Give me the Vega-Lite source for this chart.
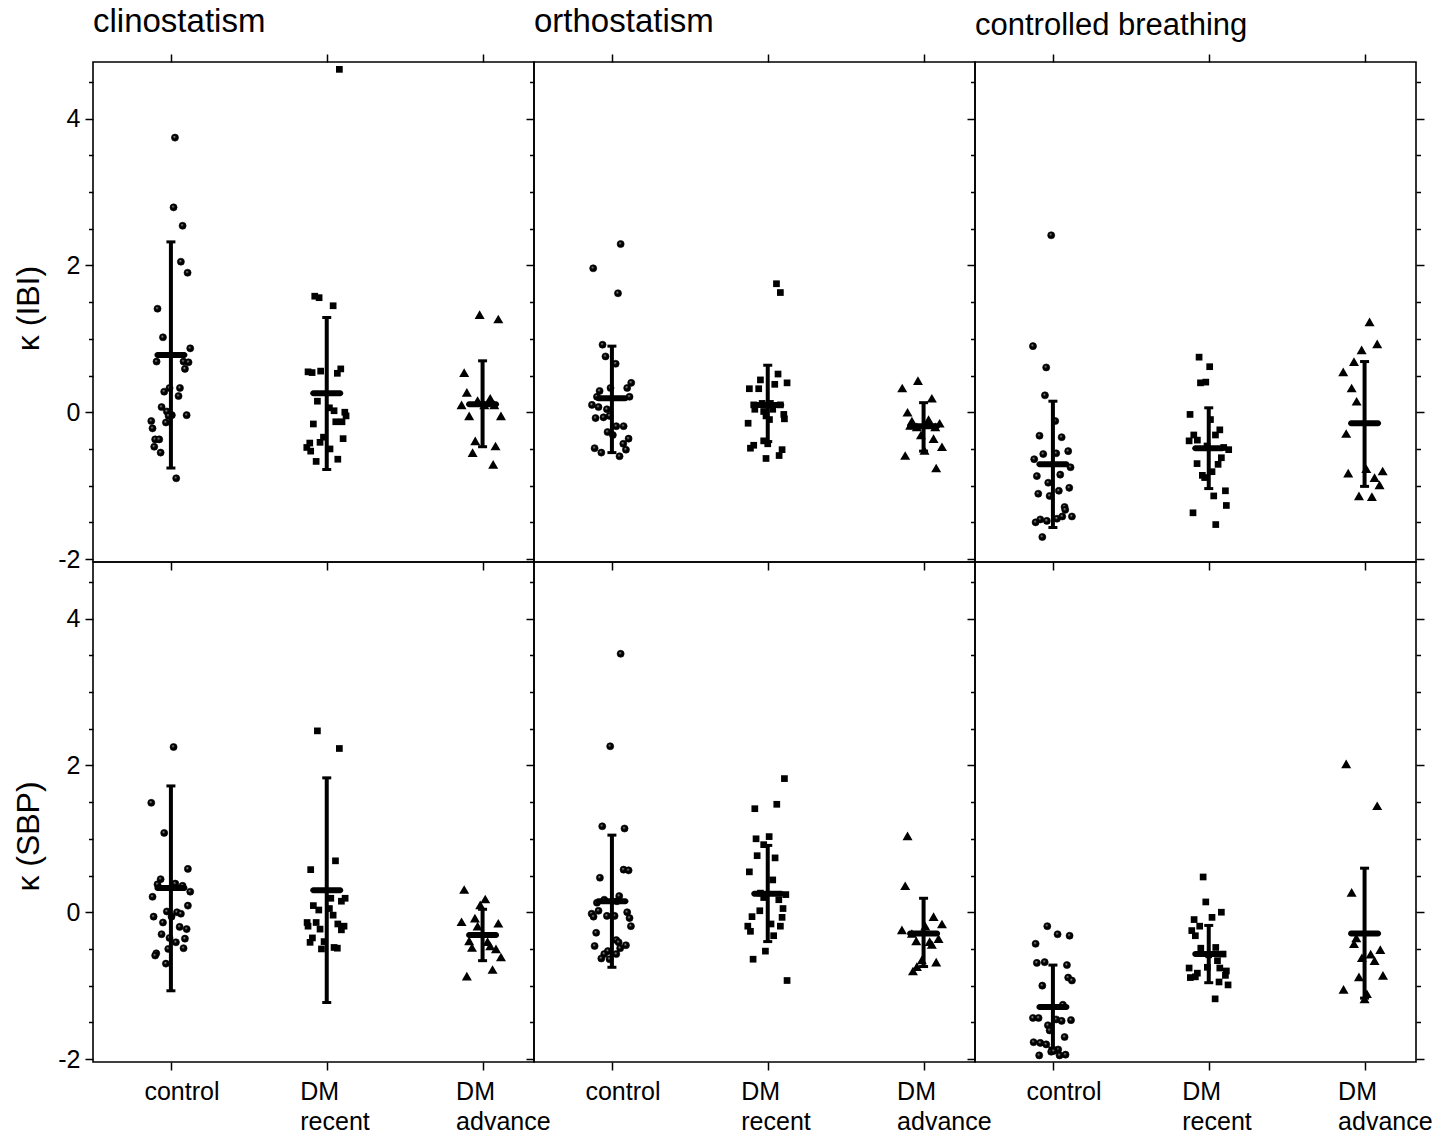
{
"$schema": "https://vega.github.io/schema/vega-lite/v6.json",
"background": "white",
"padding": {"left": 11, "top": 5, "right": 10, "bottom": 5},
"datasets": {
"pts": [
{"r":"IBI","c":"cl","g":1,"x":1.026,"v":3.74},{"r":"IBI","c":"cl","g":1,"x":1.017,"v":2.79},{"r":"IBI","c":"cl","g":1,"x":1.075,"v":2.54},{"r":"IBI","c":"cl","g":1,"x":1.064,"v":2.05},{"r":"IBI","c":"cl","g":1,"x":1.107,"v":1.90},{"r":"IBI","c":"cl","g":1,"x":0.914,"v":1.41},{"r":"IBI","c":"cl","g":1,"x":0.949,"v":1.02},{"r":"IBI","c":"cl","g":1,"x":1.124,"v":0.87},{"r":"IBI","c":"cl","g":1,"x":0.908,"v":0.69},{"r":"IBI","c":"cl","g":1,"x":1.081,"v":0.69},{"r":"IBI","c":"cl","g":1,"x":1.113,"v":0.68},{"r":"IBI","c":"cl","g":1,"x":1.090,"v":0.59},{"r":"IBI","c":"cl","g":1,"x":0.991,"v":0.33},{"r":"IBI","c":"cl","g":1,"x":0.957,"v":0.28},{"r":"IBI","c":"cl","g":1,"x":1.058,"v":0.33},{"r":"IBI","c":"cl","g":1,"x":1.049,"v":0.22},{"r":"IBI","c":"cl","g":1,"x":0.940,"v":0.07},{"r":"IBI","c":"cl","g":1,"x":0.974,"v":0.01},{"r":"IBI","c":"cl","g":1,"x":1.006,"v":-0.04},{"r":"IBI","c":"cl","g":1,"x":0.985,"v":-0.05},{"r":"IBI","c":"cl","g":1,"x":1.101,"v":-0.04},{"r":"IBI","c":"cl","g":1,"x":0.874,"v":-0.12},{"r":"IBI","c":"cl","g":1,"x":0.968,"v":-0.14},{"r":"IBI","c":"cl","g":1,"x":0.882,"v":-0.22},{"r":"IBI","c":"cl","g":1,"x":0.899,"v":-0.37},{"r":"IBI","c":"cl","g":1,"x":0.925,"v":-0.37},{"r":"IBI","c":"cl","g":1,"x":0.893,"v":-0.47},{"r":"IBI","c":"cl","g":1,"x":0.934,"v":-0.55},{"r":"IBI","c":"cl","g":1,"x":1.034,"v":-0.90},
{"r":"IBI","c":"cl","g":2,"x":2.081,"v":4.67},{"r":"IBI","c":"cl","g":2,"x":1.923,"v":1.58},{"r":"IBI","c":"cl","g":2,"x":1.951,"v":1.56},{"r":"IBI","c":"cl","g":2,"x":2.041,"v":1.45},{"r":"IBI","c":"cl","g":2,"x":1.880,"v":0.55},{"r":"IBI","c":"cl","g":2,"x":1.906,"v":0.54},{"r":"IBI","c":"cl","g":2,"x":1.961,"v":0.56},{"r":"IBI","c":"cl","g":2,"x":2.068,"v":0.53},{"r":"IBI","c":"cl","g":2,"x":2.090,"v":0.59},{"r":"IBI","c":"cl","g":2,"x":1.940,"v":0.15},{"r":"IBI","c":"cl","g":2,"x":2.017,"v":0.06},{"r":"IBI","c":"cl","g":2,"x":2.047,"v":0.02},{"r":"IBI","c":"cl","g":2,"x":2.116,"v":0.00},{"r":"IBI","c":"cl","g":2,"x":2.124,"v":-0.05},{"r":"IBI","c":"cl","g":2,"x":2.058,"v":-0.13},{"r":"IBI","c":"cl","g":2,"x":2.098,"v":-0.13},{"r":"IBI","c":"cl","g":2,"x":1.914,"v":-0.16},{"r":"IBI","c":"cl","g":2,"x":1.979,"v":-0.34},{"r":"IBI","c":"cl","g":2,"x":2.105,"v":-0.36},{"r":"IBI","c":"cl","g":2,"x":1.957,"v":-0.41},{"r":"IBI","c":"cl","g":2,"x":1.891,"v":-0.42},{"r":"IBI","c":"cl","g":2,"x":1.872,"v":-0.48},{"r":"IBI","c":"cl","g":2,"x":1.897,"v":-0.53},{"r":"IBI","c":"cl","g":2,"x":2.021,"v":-0.50},{"r":"IBI","c":"cl","g":2,"x":1.932,"v":-0.67},{"r":"IBI","c":"cl","g":2,"x":2.071,"v":-0.64},
{"r":"IBI","c":"cl","g":3,"x":2.981,"v":1.33},{"r":"IBI","c":"cl","g":3,"x":3.101,"v":1.27},{"r":"IBI","c":"cl","g":3,"x":2.882,"v":0.54},{"r":"IBI","c":"cl","g":3,"x":2.899,"v":0.27},{"r":"IBI","c":"cl","g":3,"x":2.968,"v":0.16},{"r":"IBI","c":"cl","g":3,"x":3.049,"v":0.19},{"r":"IBI","c":"cl","g":3,"x":2.865,"v":0.10},{"r":"IBI","c":"cl","g":3,"x":3.011,"v":0.10},{"r":"IBI","c":"cl","g":3,"x":3.075,"v":0.10},{"r":"IBI","c":"cl","g":3,"x":2.914,"v":-0.05},{"r":"IBI","c":"cl","g":3,"x":3.118,"v":-0.05},{"r":"IBI","c":"cl","g":3,"x":2.953,"v":-0.39},{"r":"IBI","c":"cl","g":3,"x":3.083,"v":-0.46},{"r":"IBI","c":"cl","g":3,"x":2.936,"v":-0.55},{"r":"IBI","c":"cl","g":3,"x":3.068,"v":-0.71},
{"r":"IBI","c":"or","g":1,"x":1.056,"v":2.29},{"r":"IBI","c":"or","g":1,"x":0.880,"v":1.96},{"r":"IBI","c":"or","g":1,"x":1.039,"v":1.62},{"r":"IBI","c":"or","g":1,"x":0.940,"v":0.92},{"r":"IBI","c":"or","g":1,"x":0.959,"v":0.76},{"r":"IBI","c":"or","g":1,"x":1.024,"v":0.66},{"r":"IBI","c":"or","g":1,"x":1.124,"v":0.40},{"r":"IBI","c":"or","g":1,"x":1.098,"v":0.33},{"r":"IBI","c":"or","g":1,"x":0.991,"v":0.33},{"r":"IBI","c":"or","g":1,"x":0.921,"v":0.29},{"r":"IBI","c":"or","g":1,"x":1.113,"v":0.21},{"r":"IBI","c":"or","g":1,"x":0.904,"v":0.21},{"r":"IBI","c":"or","g":1,"x":0.872,"v":0.10},{"r":"IBI","c":"or","g":1,"x":0.914,"v":0.07},{"r":"IBI","c":"or","g":1,"x":0.968,"v":0.04},{"r":"IBI","c":"or","g":1,"x":0.895,"v":-0.08},{"r":"IBI","c":"or","g":1,"x":0.946,"v":-0.07},{"r":"IBI","c":"or","g":1,"x":0.985,"v":-0.05},{"r":"IBI","c":"or","g":1,"x":1.028,"v":-0.19},{"r":"IBI","c":"or","g":1,"x":1.075,"v":-0.19},{"r":"IBI","c":"or","g":1,"x":0.972,"v":-0.27},{"r":"IBI","c":"or","g":1,"x":1.006,"v":-0.31},{"r":"IBI","c":"or","g":1,"x":1.107,"v":-0.36},{"r":"IBI","c":"or","g":1,"x":1.073,"v":-0.43},{"r":"IBI","c":"or","g":1,"x":0.889,"v":-0.49},{"r":"IBI","c":"or","g":1,"x":1.090,"v":-0.51},{"r":"IBI","c":"or","g":1,"x":0.932,"v":-0.55},{"r":"IBI","c":"or","g":1,"x":1.049,"v":-0.60},
{"r":"IBI","c":"or","g":2,"x":2.056,"v":1.75},{"r":"IBI","c":"or","g":2,"x":2.081,"v":1.63},{"r":"IBI","c":"or","g":2,"x":2.066,"v":0.52},{"r":"IBI","c":"or","g":2,"x":1.953,"v":0.44},{"r":"IBI","c":"or","g":2,"x":2.124,"v":0.40},{"r":"IBI","c":"or","g":2,"x":2.045,"v":0.38},{"r":"IBI","c":"or","g":2,"x":1.882,"v":0.32},{"r":"IBI","c":"or","g":2,"x":1.942,"v":0.32},{"r":"IBI","c":"or","g":2,"x":1.910,"v":0.10},{"r":"IBI","c":"or","g":2,"x":1.964,"v":0.12},{"r":"IBI","c":"or","g":2,"x":2.017,"v":0.12},{"r":"IBI","c":"or","g":2,"x":2.081,"v":0.10},{"r":"IBI","c":"or","g":2,"x":1.917,"v":0.04},{"r":"IBI","c":"or","g":2,"x":1.974,"v":0.01},{"r":"IBI","c":"or","g":2,"x":2.032,"v":0.04},{"r":"IBI","c":"or","g":2,"x":2.103,"v":-0.03},{"r":"IBI","c":"or","g":2,"x":1.989,"v":-0.05},{"r":"IBI","c":"or","g":2,"x":2.107,"v":-0.09},{"r":"IBI","c":"or","g":2,"x":2.011,"v":-0.10},{"r":"IBI","c":"or","g":2,"x":1.874,"v":-0.15},{"r":"IBI","c":"or","g":2,"x":1.974,"v":-0.39},{"r":"IBI","c":"or","g":2,"x":2.000,"v":-0.43},{"r":"IBI","c":"or","g":2,"x":1.910,"v":-0.45},{"r":"IBI","c":"or","g":2,"x":1.889,"v":-0.49},{"r":"IBI","c":"or","g":2,"x":2.092,"v":-0.51},{"r":"IBI","c":"or","g":2,"x":2.073,"v":-0.59},{"r":"IBI","c":"or","g":2,"x":1.989,"v":-0.63},
{"r":"IBI","c":"or","g":3,"x":2.964,"v":0.43},{"r":"IBI","c":"or","g":3,"x":2.863,"v":0.33},{"r":"IBI","c":"or","g":3,"x":3.053,"v":0.19},{"r":"IBI","c":"or","g":3,"x":2.897,"v":0.00},{"r":"IBI","c":"or","g":3,"x":2.925,"v":-0.12},{"r":"IBI","c":"or","g":3,"x":3.032,"v":-0.10},{"r":"IBI","c":"or","g":3,"x":3.103,"v":-0.15},{"r":"IBI","c":"or","g":3,"x":2.914,"v":-0.18},{"r":"IBI","c":"or","g":3,"x":2.957,"v":-0.20},{"r":"IBI","c":"or","g":3,"x":3.075,"v":-0.20},{"r":"IBI","c":"or","g":3,"x":2.983,"v":-0.31},{"r":"IBI","c":"or","g":3,"x":3.064,"v":-0.36},{"r":"IBI","c":"or","g":3,"x":3.006,"v":-0.52},{"r":"IBI","c":"or","g":3,"x":3.118,"v":-0.47},{"r":"IBI","c":"or","g":3,"x":2.882,"v":-0.59},{"r":"IBI","c":"or","g":3,"x":3.081,"v":-0.76},
{"r":"IBI","c":"br","g":1,"x":0.989,"v":2.41},{"r":"IBI","c":"br","g":1,"x":0.872,"v":0.90},{"r":"IBI","c":"br","g":1,"x":0.957,"v":0.61},{"r":"IBI","c":"br","g":1,"x":0.949,"v":0.23},{"r":"IBI","c":"br","g":1,"x":1.015,"v":-0.12},{"r":"IBI","c":"br","g":1,"x":0.914,"v":-0.32},{"r":"IBI","c":"br","g":1,"x":1.056,"v":-0.34},{"r":"IBI","c":"br","g":1,"x":0.938,"v":-0.57},{"r":"IBI","c":"br","g":1,"x":1.021,"v":-0.56},{"r":"IBI","c":"br","g":1,"x":1.098,"v":-0.53},{"r":"IBI","c":"br","g":1,"x":0.880,"v":-0.64},{"r":"IBI","c":"br","g":1,"x":1.113,"v":-0.75},{"r":"IBI","c":"br","g":1,"x":0.897,"v":-0.87},{"r":"IBI","c":"br","g":1,"x":1.047,"v":-0.85},{"r":"IBI","c":"br","g":1,"x":0.970,"v":-0.96},{"r":"IBI","c":"br","g":1,"x":1.038,"v":-1.07},{"r":"IBI","c":"br","g":1,"x":0.906,"v":-1.11},{"r":"IBI","c":"br","g":1,"x":0.979,"v":-1.14},{"r":"IBI","c":"br","g":1,"x":1.105,"v":-1.03},{"r":"IBI","c":"br","g":1,"x":1.075,"v":-1.29},{"r":"IBI","c":"br","g":1,"x":1.079,"v":-1.33},{"r":"IBI","c":"br","g":1,"x":1.122,"v":-1.42},{"r":"IBI","c":"br","g":1,"x":1.060,"v":-1.42},{"r":"IBI","c":"br","g":1,"x":1.026,"v":-1.45},{"r":"IBI","c":"br","g":1,"x":0.919,"v":-1.46},{"r":"IBI","c":"br","g":1,"x":0.961,"v":-1.48},{"r":"IBI","c":"br","g":1,"x":0.889,"v":-1.50},{"r":"IBI","c":"br","g":1,"x":0.932,"v":-1.70},
{"r":"IBI","c":"br","g":2,"x":1.938,"v":0.75},{"r":"IBI","c":"br","g":2,"x":2.006,"v":0.62},{"r":"IBI","c":"br","g":2,"x":1.947,"v":0.40},{"r":"IBI","c":"br","g":2,"x":1.981,"v":0.41},{"r":"IBI","c":"br","g":2,"x":1.880,"v":-0.03},{"r":"IBI","c":"br","g":2,"x":2.011,"v":-0.10},{"r":"IBI","c":"br","g":2,"x":2.071,"v":-0.24},{"r":"IBI","c":"br","g":2,"x":2.043,"v":-0.31},{"r":"IBI","c":"br","g":2,"x":1.904,"v":-0.31},{"r":"IBI","c":"br","g":2,"x":1.874,"v":-0.39},{"r":"IBI","c":"br","g":2,"x":1.927,"v":-0.38},{"r":"IBI","c":"br","g":2,"x":1.989,"v":-0.46},{"r":"IBI","c":"br","g":2,"x":2.096,"v":-0.48},{"r":"IBI","c":"br","g":2,"x":2.128,"v":-0.51},{"r":"IBI","c":"br","g":2,"x":2.081,"v":-0.62},{"r":"IBI","c":"br","g":2,"x":1.925,"v":-0.70},{"r":"IBI","c":"br","g":2,"x":2.060,"v":-0.71},{"r":"IBI","c":"br","g":2,"x":2.021,"v":-0.81},{"r":"IBI","c":"br","g":2,"x":1.959,"v":-0.86},{"r":"IBI","c":"br","g":2,"x":1.974,"v":-0.89},{"r":"IBI","c":"br","g":2,"x":2.107,"v":-1.07},{"r":"IBI","c":"br","g":2,"x":2.032,"v":-1.14},{"r":"IBI","c":"br","g":2,"x":2.113,"v":-1.27},{"r":"IBI","c":"br","g":2,"x":1.899,"v":-1.37},{"r":"IBI","c":"br","g":2,"x":2.045,"v":-1.53},
{"r":"IBI","c":"br","g":3,"x":3.032,"v":1.23},{"r":"IBI","c":"br","g":3,"x":3.081,"v":0.93},{"r":"IBI","c":"br","g":3,"x":2.981,"v":0.85},{"r":"IBI","c":"br","g":3,"x":2.932,"v":0.69},{"r":"IBI","c":"br","g":3,"x":2.863,"v":0.55},{"r":"IBI","c":"br","g":3,"x":2.917,"v":0.33},{"r":"IBI","c":"br","g":3,"x":2.949,"v":0.15},{"r":"IBI","c":"br","g":3,"x":2.882,"v":-0.29},{"r":"IBI","c":"br","g":3,"x":2.895,"v":-0.83},{"r":"IBI","c":"br","g":3,"x":3.011,"v":-0.77},{"r":"IBI","c":"br","g":3,"x":3.116,"v":-0.80},{"r":"IBI","c":"br","g":3,"x":3.064,"v":-0.89},{"r":"IBI","c":"br","g":3,"x":3.096,"v":-0.99},{"r":"IBI","c":"br","g":3,"x":2.964,"v":-1.14},{"r":"IBI","c":"br","g":3,"x":3.047,"v":-1.15},
{"r":"SBP","c":"cl","g":1,"x":1.017,"v":2.25},{"r":"SBP","c":"cl","g":1,"x":0.874,"v":1.49},{"r":"SBP","c":"cl","g":1,"x":0.957,"v":1.08},{"r":"SBP","c":"cl","g":1,"x":1.109,"v":0.59},{"r":"SBP","c":"cl","g":1,"x":0.934,"v":0.45},{"r":"SBP","c":"cl","g":1,"x":0.914,"v":0.38},{"r":"SBP","c":"cl","g":1,"x":1.028,"v":0.39},{"r":"SBP","c":"cl","g":1,"x":1.075,"v":0.36},{"r":"SBP","c":"cl","g":1,"x":1.124,"v":0.28},{"r":"SBP","c":"cl","g":1,"x":0.882,"v":0.21},{"r":"SBP","c":"cl","g":1,"x":1.109,"v":0.09},{"r":"SBP","c":"cl","g":1,"x":0.974,"v":0.01},{"r":"SBP","c":"cl","g":1,"x":1.039,"v":0.00},{"r":"SBP","c":"cl","g":1,"x":1.064,"v":-0.02},{"r":"SBP","c":"cl","g":1,"x":1.004,"v":-0.06},{"r":"SBP","c":"cl","g":1,"x":0.889,"v":-0.06},{"r":"SBP","c":"cl","g":1,"x":0.949,"v":-0.14},{"r":"SBP","c":"cl","g":1,"x":1.056,"v":-0.20},{"r":"SBP","c":"cl","g":1,"x":1.101,"v":-0.23},{"r":"SBP","c":"cl","g":1,"x":0.940,"v":-0.30},{"r":"SBP","c":"cl","g":1,"x":0.991,"v":-0.35},{"r":"SBP","c":"cl","g":1,"x":1.090,"v":-0.36},{"r":"SBP","c":"cl","g":1,"x":1.032,"v":-0.41},{"r":"SBP","c":"cl","g":1,"x":0.983,"v":-0.50},{"r":"SBP","c":"cl","g":1,"x":1.081,"v":-0.49},{"r":"SBP","c":"cl","g":1,"x":0.906,"v":-0.56},{"r":"SBP","c":"cl","g":1,"x":0.899,"v":-0.59},{"r":"SBP","c":"cl","g":1,"x":0.968,"v":-0.70},
{"r":"SBP","c":"cl","g":2,"x":1.940,"v":2.47},{"r":"SBP","c":"cl","g":2,"x":2.081,"v":2.23},{"r":"SBP","c":"cl","g":2,"x":2.056,"v":0.70},{"r":"SBP","c":"cl","g":2,"x":1.897,"v":0.58},{"r":"SBP","c":"cl","g":2,"x":2.026,"v":0.19},{"r":"SBP","c":"cl","g":2,"x":2.118,"v":0.19},{"r":"SBP","c":"cl","g":2,"x":2.094,"v":0.15},{"r":"SBP","c":"cl","g":2,"x":1.914,"v":0.09},{"r":"SBP","c":"cl","g":2,"x":1.949,"v":0.03},{"r":"SBP","c":"cl","g":2,"x":2.017,"v":0.05},{"r":"SBP","c":"cl","g":2,"x":2.041,"v":-0.04},{"r":"SBP","c":"cl","g":2,"x":1.874,"v":-0.14},{"r":"SBP","c":"cl","g":2,"x":1.932,"v":-0.14},{"r":"SBP","c":"cl","g":2,"x":2.071,"v":-0.16},{"r":"SBP","c":"cl","g":2,"x":2.111,"v":-0.19},{"r":"SBP","c":"cl","g":2,"x":1.880,"v":-0.19},{"r":"SBP","c":"cl","g":2,"x":1.957,"v":-0.23},{"r":"SBP","c":"cl","g":2,"x":2.094,"v":-0.24},{"r":"SBP","c":"cl","g":2,"x":1.908,"v":-0.35},{"r":"SBP","c":"cl","g":2,"x":1.983,"v":-0.40},{"r":"SBP","c":"cl","g":2,"x":1.893,"v":-0.41},{"r":"SBP","c":"cl","g":2,"x":1.966,"v":-0.50},{"r":"SBP","c":"cl","g":2,"x":2.047,"v":-0.48},{"r":"SBP","c":"cl","g":2,"x":2.068,"v":-0.49},
{"r":"SBP","c":"cl","g":3,"x":2.882,"v":0.31},{"r":"SBP","c":"cl","g":3,"x":3.017,"v":0.18},{"r":"SBP","c":"cl","g":3,"x":2.985,"v":0.10},{"r":"SBP","c":"cl","g":3,"x":2.865,"v":-0.13},{"r":"SBP","c":"cl","g":3,"x":2.951,"v":-0.08},{"r":"SBP","c":"cl","g":3,"x":2.968,"v":-0.19},{"r":"SBP","c":"cl","g":3,"x":3.101,"v":-0.15},{"r":"SBP","c":"cl","g":3,"x":2.914,"v":-0.39},{"r":"SBP","c":"cl","g":3,"x":3.032,"v":-0.40},{"r":"SBP","c":"cl","g":3,"x":2.932,"v":-0.48},{"r":"SBP","c":"cl","g":3,"x":3.049,"v":-0.46},{"r":"SBP","c":"cl","g":3,"x":3.086,"v":-0.50},{"r":"SBP","c":"cl","g":3,"x":3.118,"v":-0.61},{"r":"SBP","c":"cl","g":3,"x":3.064,"v":-0.78},{"r":"SBP","c":"cl","g":3,"x":2.899,"v":-0.87},
{"r":"SBP","c":"or","g":1,"x":1.056,"v":3.52},{"r":"SBP","c":"or","g":1,"x":0.989,"v":2.26},{"r":"SBP","c":"or","g":1,"x":0.938,"v":1.17},{"r":"SBP","c":"or","g":1,"x":1.081,"v":1.14},{"r":"SBP","c":"or","g":1,"x":1.075,"v":0.58},{"r":"SBP","c":"or","g":1,"x":1.107,"v":0.57},{"r":"SBP","c":"or","g":1,"x":0.923,"v":0.47},{"r":"SBP","c":"or","g":1,"x":1.047,"v":0.22},{"r":"SBP","c":"or","g":1,"x":0.951,"v":0.17},{"r":"SBP","c":"or","g":1,"x":0.904,"v":0.13},{"r":"SBP","c":"or","g":1,"x":1.032,"v":0.15},{"r":"SBP","c":"or","g":1,"x":0.914,"v":0.02},{"r":"SBP","c":"or","g":1,"x":0.870,"v":-0.02},{"r":"SBP","c":"or","g":1,"x":0.882,"v":-0.06},{"r":"SBP","c":"or","g":1,"x":0.968,"v":-0.05},{"r":"SBP","c":"or","g":1,"x":1.017,"v":-0.05},{"r":"SBP","c":"or","g":1,"x":1.098,"v":0.00},{"r":"SBP","c":"or","g":1,"x":1.113,"v":-0.08},{"r":"SBP","c":"or","g":1,"x":1.122,"v":-0.19},{"r":"SBP","c":"or","g":1,"x":0.899,"v":-0.28},{"r":"SBP","c":"or","g":1,"x":1.028,"v":-0.38},{"r":"SBP","c":"or","g":1,"x":1.043,"v":-0.41},{"r":"SBP","c":"or","g":1,"x":0.889,"v":-0.46},{"r":"SBP","c":"or","g":1,"x":1.090,"v":-0.45},{"r":"SBP","c":"or","g":1,"x":1.053,"v":-0.49},{"r":"SBP","c":"or","g":1,"x":0.974,"v":-0.53},{"r":"SBP","c":"or","g":1,"x":0.951,"v":-0.57},{"r":"SBP","c":"or","g":1,"x":1.028,"v":-0.57},{"r":"SBP","c":"or","g":1,"x":0.932,"v":-0.63},{"r":"SBP","c":"or","g":1,"x":0.985,"v":-0.64},
{"r":"SBP","c":"or","g":2,"x":2.107,"v":1.82},{"r":"SBP","c":"or","g":2,"x":1.917,"v":1.41},{"r":"SBP","c":"or","g":2,"x":2.058,"v":1.47},{"r":"SBP","c":"or","g":2,"x":1.925,"v":1.00},{"r":"SBP","c":"or","g":2,"x":2.009,"v":1.03},{"r":"SBP","c":"or","g":2,"x":1.974,"v":0.92},{"r":"SBP","c":"or","g":2,"x":1.932,"v":0.77},{"r":"SBP","c":"or","g":2,"x":2.047,"v":0.74},{"r":"SBP","c":"or","g":2,"x":1.882,"v":0.55},{"r":"SBP","c":"or","g":2,"x":2.032,"v":0.44},{"r":"SBP","c":"or","g":2,"x":1.953,"v":0.26},{"r":"SBP","c":"or","g":2,"x":2.116,"v":0.24},{"r":"SBP","c":"or","g":2,"x":1.974,"v":0.20},{"r":"SBP","c":"or","g":2,"x":2.071,"v":0.17},{"r":"SBP","c":"or","g":2,"x":2.098,"v":0.05},{"r":"SBP","c":"or","g":2,"x":1.949,"v":0.02},{"r":"SBP","c":"or","g":2,"x":1.899,"v":-0.06},{"r":"SBP","c":"or","g":2,"x":2.092,"v":-0.07},{"r":"SBP","c":"or","g":2,"x":2.021,"v":-0.16},{"r":"SBP","c":"or","g":2,"x":1.872,"v":-0.19},{"r":"SBP","c":"or","g":2,"x":2.081,"v":-0.19},{"r":"SBP","c":"or","g":2,"x":1.889,"v":-0.26},{"r":"SBP","c":"or","g":2,"x":2.038,"v":-0.32},{"r":"SBP","c":"or","g":2,"x":1.985,"v":-0.53},{"r":"SBP","c":"or","g":2,"x":1.906,"v":-0.64},{"r":"SBP","c":"or","g":2,"x":2.124,"v":-0.93},
{"r":"SBP","c":"or","g":3,"x":2.897,"v":1.04},{"r":"SBP","c":"or","g":3,"x":2.882,"v":0.36},{"r":"SBP","c":"or","g":3,"x":3.064,"v":-0.06},{"r":"SBP","c":"or","g":3,"x":3.118,"v":-0.16},{"r":"SBP","c":"or","g":3,"x":2.861,"v":-0.24},{"r":"SBP","c":"or","g":3,"x":3.011,"v":-0.19},{"r":"SBP","c":"or","g":3,"x":2.925,"v":-0.29},{"r":"SBP","c":"or","g":3,"x":2.953,"v":-0.39},{"r":"SBP","c":"or","g":3,"x":3.039,"v":-0.40},{"r":"SBP","c":"or","g":3,"x":3.096,"v":-0.36},{"r":"SBP","c":"or","g":3,"x":3.053,"v":-0.44},{"r":"SBP","c":"or","g":3,"x":2.989,"v":-0.65},{"r":"SBP","c":"or","g":3,"x":3.081,"v":-0.68},{"r":"SBP","c":"or","g":3,"x":2.957,"v":-0.74},{"r":"SBP","c":"or","g":3,"x":2.932,"v":-0.80},
{"r":"SBP","c":"br","g":1,"x":0.964,"v":-0.19},{"r":"SBP","c":"br","g":1,"x":1.030,"v":-0.30},{"r":"SBP","c":"br","g":1,"x":1.107,"v":-0.32},{"r":"SBP","c":"br","g":1,"x":0.889,"v":-0.43},{"r":"SBP","c":"br","g":1,"x":0.897,"v":-0.69},{"r":"SBP","c":"br","g":1,"x":0.947,"v":-0.68},{"r":"SBP","c":"br","g":1,"x":1.090,"v":-0.72},{"r":"SBP","c":"br","g":1,"x":1.098,"v":-0.89},{"r":"SBP","c":"br","g":1,"x":1.122,"v":-0.93},{"r":"SBP","c":"br","g":1,"x":0.932,"v":-1.00},{"r":"SBP","c":"br","g":1,"x":1.064,"v":-1.26},{"r":"SBP","c":"br","g":1,"x":0.872,"v":-1.44},{"r":"SBP","c":"br","g":1,"x":0.908,"v":-1.44},{"r":"SBP","c":"br","g":1,"x":1.021,"v":-1.46},{"r":"SBP","c":"br","g":1,"x":1.056,"v":-1.48},{"r":"SBP","c":"br","g":1,"x":1.116,"v":-1.47},{"r":"SBP","c":"br","g":1,"x":0.968,"v":-1.54},{"r":"SBP","c":"br","g":1,"x":0.979,"v":-1.61},{"r":"SBP","c":"br","g":1,"x":1.075,"v":-1.70},{"r":"SBP","c":"br","g":1,"x":0.876,"v":-1.77},{"r":"SBP","c":"br","g":1,"x":0.919,"v":-1.78},{"r":"SBP","c":"br","g":1,"x":0.957,"v":-1.80},{"r":"SBP","c":"br","g":1,"x":1.034,"v":-1.87},{"r":"SBP","c":"br","g":1,"x":0.989,"v":-1.90},{"r":"SBP","c":"br","g":1,"x":1.006,"v":-1.89},{"r":"SBP","c":"br","g":1,"x":1.043,"v":-1.95},{"r":"SBP","c":"br","g":1,"x":1.081,"v":-1.94},{"r":"SBP","c":"br","g":1,"x":0.912,"v":-1.95},
{"r":"SBP","c":"br","g":2,"x":1.964,"v":0.48},{"r":"SBP","c":"br","g":2,"x":1.981,"v":0.14},{"r":"SBP","c":"br","g":2,"x":2.081,"v":0.00},{"r":"SBP","c":"br","g":2,"x":1.906,"v":-0.10},{"r":"SBP","c":"br","g":2,"x":2.021,"v":-0.07},{"r":"SBP","c":"br","g":2,"x":1.942,"v":-0.19},{"r":"SBP","c":"br","g":2,"x":1.891,"v":-0.25},{"r":"SBP","c":"br","g":2,"x":1.914,"v":-0.32},{"r":"SBP","c":"br","g":2,"x":1.949,"v":-0.49},{"r":"SBP","c":"br","g":2,"x":2.045,"v":-0.48},{"r":"SBP","c":"br","g":2,"x":2.092,"v":-0.57},{"r":"SBP","c":"br","g":2,"x":2.000,"v":-0.58},{"r":"SBP","c":"br","g":2,"x":2.056,"v":-0.66},{"r":"SBP","c":"br","g":2,"x":1.874,"v":-0.76},{"r":"SBP","c":"br","g":2,"x":1.991,"v":-0.75},{"r":"SBP","c":"br","g":2,"x":2.071,"v":-0.76},{"r":"SBP","c":"br","g":2,"x":2.113,"v":-0.80},{"r":"SBP","c":"br","g":2,"x":1.927,"v":-0.83},{"r":"SBP","c":"br","g":2,"x":1.882,"v":-0.89},{"r":"SBP","c":"br","g":2,"x":1.914,"v":-0.88},{"r":"SBP","c":"br","g":2,"x":2.107,"v":-0.86},{"r":"SBP","c":"br","g":2,"x":2.066,"v":-0.95},{"r":"SBP","c":"br","g":2,"x":2.124,"v":-0.99},{"r":"SBP","c":"br","g":2,"x":2.041,"v":-1.18},
{"r":"SBP","c":"br","g":3,"x":2.882,"v":2.02},{"r":"SBP","c":"br","g":3,"x":3.081,"v":1.45},{"r":"SBP","c":"br","g":3,"x":2.917,"v":0.27},{"r":"SBP","c":"br","g":3,"x":2.947,"v":-0.35},{"r":"SBP","c":"br","g":3,"x":2.932,"v":-0.43},{"r":"SBP","c":"br","g":3,"x":3.101,"v":-0.51},{"r":"SBP","c":"br","g":3,"x":3.039,"v":-0.57},{"r":"SBP","c":"br","g":3,"x":2.983,"v":-0.62},{"r":"SBP","c":"br","g":3,"x":3.064,"v":-0.66},{"r":"SBP","c":"br","g":3,"x":2.964,"v":-0.88},{"r":"SBP","c":"br","g":3,"x":3.118,"v":-0.86},{"r":"SBP","c":"br","g":3,"x":2.865,"v":-1.05},{"r":"SBP","c":"br","g":3,"x":3.015,"v":-1.11},{"r":"SBP","c":"br","g":3,"x":3.000,"v":-1.18}
],
"st": [
{"r":"IBI","c":"cl","g":1,"m":0.78,"lo":-0.76,"hi":2.32},{"r":"IBI","c":"cl","g":2,"m":0.26,"lo":-0.78,"hi":1.29},{"r":"IBI","c":"cl","g":3,"m":0.11,"lo":-0.47,"hi":0.70},
{"r":"IBI","c":"or","g":1,"m":0.19,"lo":-0.55,"hi":0.90},{"r":"IBI","c":"or","g":2,"m":0.10,"lo":-0.40,"hi":0.64},{"r":"IBI","c":"or","g":3,"m":-0.19,"lo":-0.53,"hi":0.13},
{"r":"IBI","c":"br","g":1,"m":-0.71,"lo":-1.57,"hi":0.15},{"r":"IBI","c":"br","g":2,"m":-0.49,"lo":-1.04,"hi":0.06},{"r":"IBI","c":"br","g":3,"m":-0.15,"lo":-1.01,"hi":0.69},
{"r":"SBP","c":"cl","g":1,"m":0.33,"lo":-1.07,"hi":1.72},{"r":"SBP","c":"cl","g":2,"m":0.30,"lo":-1.23,"hi":1.83},{"r":"SBP","c":"cl","g":3,"m":-0.31,"lo":-0.66,"hi":0.04},
{"r":"SBP","c":"or","g":1,"m":0.15,"lo":-0.75,"hi":1.05},{"r":"SBP","c":"or","g":2,"m":0.25,"lo":-0.40,"hi":0.91},{"r":"SBP","c":"or","g":3,"m":-0.29,"lo":-0.74,"hi":0.19},
{"r":"SBP","c":"br","g":1,"m":-1.29,"lo":-1.85,"hi":-0.72},{"r":"SBP","c":"br","g":2,"m":-0.57,"lo":-0.96,"hi":-0.18},{"r":"SBP","c":"br","g":3,"m":-0.29,"lo":-1.17,"hi":0.60}
]
},
"columns": 3,
"spacing": 0,
"bounds": "flush",
"concat": [
{"width":441,"height":500,"title":{"text":"clinostatism","offset":14,"fontSize":33},"resolve":{"axis":{"x":"independent","y":"independent"}},"layer":[
{"data":{"name":"pts"},"transform":[{"filter":"datum.r=='IBI'&&datum.c=='cl'&&datum.g==1"}],"mark":{"type":"point","shape":"circle","filled":true,"size":50,"opacity":1,"stroke":"#000","strokeWidth":0.6,"fill":{"gradient":"radial","x1":0.38,"y1":0.35,"r1":0,"x2":0.5,"y2":0.5,"r2":0.5,"stops":[{"offset":0,"color":"#ffffff"},{"offset":0.2,"color":"#555555"},{"offset":0.45,"color":"#000000"},{"offset":1,"color":"#000000"}]}},"encoding":{"x":{"field":"x","type":"quantitative","scale":{"domain":[0.5,3.33]},"axis":{"orient":"bottom","values":[1,2,3],"labels":false,"tickSize":8,"title":null}},"y":{"field":"v","type":"quantitative","scale":{"domain":[-2.04,4.77]},"axis":{"orient":"left","values":[-2,-1.5,-1,-0.5,0,0.5,1,1.5,2,2.5,3,3.5,4,4.5],"labelExpr":"datum.value % 2 === 0 ? toString(datum.value) : ''","tickSize":{"condition":{"test":"datum.value % 2 === 0","value":8},"value":4.5},"labelPadding":5,"labelFlush":false,"labelOverlap":false,"title":"κ (IBI)","titlePadding":12,"titleY":246}}}},
{"data":{"name":"pts"},"transform":[{"filter":"datum.r=='IBI'&&datum.c=='cl'&&datum.g==2"}],"mark":{"type":"point","shape":"square","filled":true,"size":45,"opacity":1,"color":"#000"},"encoding":{"x":{"field":"x","type":"quantitative","scale":{"domain":[0.5,3.33]},"axis":null},"y":{"field":"v","type":"quantitative","scale":{"domain":[-2.04,4.77]},"axis":null}}},
{"data":{"name":"pts"},"transform":[{"filter":"datum.r=='IBI'&&datum.c=='cl'&&datum.g==3"}],"mark":{"type":"point","shape":"triangle-up","filled":true,"size":100,"opacity":1,"color":"#000"},"encoding":{"x":{"field":"x","type":"quantitative","scale":{"domain":[0.5,3.33]},"axis":null},"y":{"field":"v","type":"quantitative","scale":{"domain":[-2.04,4.77]},"axis":null}}},
{"data":{"name":"st"},"transform":[{"filter":"datum.r=='IBI'&&datum.c=='cl'"}],"mark":{"type":"rule","strokeWidth":4,"color":"#000"},"encoding":{"x":{"field":"g","type":"quantitative","scale":{"domain":[0.5,3.33]},"axis":{"orient":"top","values":[1,2,3],"labels":false,"tickSize":8,"title":null}},"y":{"field":"lo","type":"quantitative","scale":{"domain":[-2.04,4.77]},"axis":null},"y2":{"field":"hi"}}},
{"data":{"name":"st"},"transform":[{"filter":"datum.r=='IBI'&&datum.c=='cl'"}],"mark":{"type":"tick","orient":"horizontal","size":9,"thickness":3,"opacity":1,"color":"#000"},"encoding":{"x":{"field":"g","type":"quantitative","scale":{"domain":[0.5,3.33]},"axis":null},"y":{"field":"lo","type":"quantitative","scale":{"domain":[-2.04,4.77]},"axis":null}}},
{"data":{"name":"st"},"transform":[{"filter":"datum.r=='IBI'&&datum.c=='cl'"}],"mark":{"type":"tick","orient":"horizontal","size":9,"thickness":3,"opacity":1,"color":"#000"},"encoding":{"x":{"field":"g","type":"quantitative","scale":{"domain":[0.5,3.33]},"axis":null},"y":{"field":"hi","type":"quantitative","scale":{"domain":[-2.04,4.77]},"axis":null}}},
{"data":{"name":"st"},"transform":[{"filter":"datum.r=='IBI'&&datum.c=='cl'"}],"mark":{"type":"tick","orient":"horizontal","size":33,"thickness":6,"cornerRadius":3,"opacity":1,"color":"#000"},"encoding":{"x":{"field":"g","type":"quantitative","scale":{"domain":[0.5,3.33]},"axis":null},"y":{"field":"m","type":"quantitative","scale":{"domain":[-2.04,4.77]},"axis":null}}}
]},
{"width":441,"height":500,"title":{"text":"orthostatism","offset":14,"fontSize":33},"resolve":{"axis":{"x":"independent","y":"independent"}},"layer":[
{"data":{"name":"pts"},"transform":[{"filter":"datum.r=='IBI'&&datum.c=='or'&&datum.g==1"}],"mark":{"type":"point","shape":"circle","filled":true,"size":50,"opacity":1,"stroke":"#000","strokeWidth":0.6,"fill":{"gradient":"radial","x1":0.38,"y1":0.35,"r1":0,"x2":0.5,"y2":0.5,"r2":0.5,"stops":[{"offset":0,"color":"#ffffff"},{"offset":0.2,"color":"#555555"},{"offset":0.45,"color":"#000000"},{"offset":1,"color":"#000000"}]}},"encoding":{"x":{"field":"x","type":"quantitative","scale":{"domain":[0.5,3.33]},"axis":{"orient":"bottom","values":[1,2,3],"labels":false,"tickSize":8,"title":null}},"y":{"field":"v","type":"quantitative","scale":{"domain":[-2.04,4.77]},"axis":{"orient":"left","values":[-2,-1.5,-1,-0.5,0,0.5,1,1.5,2,2.5,3,3.5,4,4.5],"labels":false,"tickSize":{"condition":{"test":"datum.value % 2 === 0","value":8},"value":4.5},"title":null}}}},
{"data":{"name":"pts"},"transform":[{"filter":"datum.r=='IBI'&&datum.c=='or'&&datum.g==2"}],"mark":{"type":"point","shape":"square","filled":true,"size":45,"opacity":1,"color":"#000"},"encoding":{"x":{"field":"x","type":"quantitative","scale":{"domain":[0.5,3.33]},"axis":null},"y":{"field":"v","type":"quantitative","scale":{"domain":[-2.04,4.77]},"axis":null}}},
{"data":{"name":"pts"},"transform":[{"filter":"datum.r=='IBI'&&datum.c=='or'&&datum.g==3"}],"mark":{"type":"point","shape":"triangle-up","filled":true,"size":100,"opacity":1,"color":"#000"},"encoding":{"x":{"field":"x","type":"quantitative","scale":{"domain":[0.5,3.33]},"axis":null},"y":{"field":"v","type":"quantitative","scale":{"domain":[-2.04,4.77]},"axis":null}}},
{"data":{"name":"st"},"transform":[{"filter":"datum.r=='IBI'&&datum.c=='or'"}],"mark":{"type":"rule","strokeWidth":4,"color":"#000"},"encoding":{"x":{"field":"g","type":"quantitative","scale":{"domain":[0.5,3.33]},"axis":{"orient":"top","values":[1,2,3],"labels":false,"tickSize":8,"title":null}},"y":{"field":"lo","type":"quantitative","scale":{"domain":[-2.04,4.77]},"axis":null},"y2":{"field":"hi"}}},
{"data":{"name":"st"},"transform":[{"filter":"datum.r=='IBI'&&datum.c=='or'"}],"mark":{"type":"tick","orient":"horizontal","size":9,"thickness":3,"opacity":1,"color":"#000"},"encoding":{"x":{"field":"g","type":"quantitative","scale":{"domain":[0.5,3.33]},"axis":null},"y":{"field":"lo","type":"quantitative","scale":{"domain":[-2.04,4.77]},"axis":null}}},
{"data":{"name":"st"},"transform":[{"filter":"datum.r=='IBI'&&datum.c=='or'"}],"mark":{"type":"tick","orient":"horizontal","size":9,"thickness":3,"opacity":1,"color":"#000"},"encoding":{"x":{"field":"g","type":"quantitative","scale":{"domain":[0.5,3.33]},"axis":null},"y":{"field":"hi","type":"quantitative","scale":{"domain":[-2.04,4.77]},"axis":null}}},
{"data":{"name":"st"},"transform":[{"filter":"datum.r=='IBI'&&datum.c=='or'"}],"mark":{"type":"tick","orient":"horizontal","size":33,"thickness":6,"cornerRadius":3,"opacity":1,"color":"#000"},"encoding":{"x":{"field":"g","type":"quantitative","scale":{"domain":[0.5,3.33]},"axis":null},"y":{"field":"m","type":"quantitative","scale":{"domain":[-2.04,4.77]},"axis":null}}}
]},
{"width":441,"height":500,"title":{"text":"controlled breathing","offset":11},"resolve":{"axis":{"x":"independent","y":"independent"}},"layer":[
{"data":{"name":"pts"},"transform":[{"filter":"datum.r=='IBI'&&datum.c=='br'&&datum.g==1"}],"mark":{"type":"point","shape":"circle","filled":true,"size":50,"opacity":1,"stroke":"#000","strokeWidth":0.6,"fill":{"gradient":"radial","x1":0.38,"y1":0.35,"r1":0,"x2":0.5,"y2":0.5,"r2":0.5,"stops":[{"offset":0,"color":"#ffffff"},{"offset":0.2,"color":"#555555"},{"offset":0.45,"color":"#000000"},{"offset":1,"color":"#000000"}]}},"encoding":{"x":{"field":"x","type":"quantitative","scale":{"domain":[0.5,3.33]},"axis":{"orient":"bottom","values":[1,2,3],"labels":false,"tickSize":8,"title":null}},"y":{"field":"v","type":"quantitative","scale":{"domain":[-2.04,4.77]},"axis":{"orient":"left","values":[-2,-1.5,-1,-0.5,0,0.5,1,1.5,2,2.5,3,3.5,4,4.5],"labels":false,"tickSize":{"condition":{"test":"datum.value % 2 === 0","value":8},"value":4.5},"title":null}}}},
{"data":{"name":"pts"},"transform":[{"filter":"datum.r=='IBI'&&datum.c=='br'&&datum.g==2"}],"mark":{"type":"point","shape":"square","filled":true,"size":45,"opacity":1,"color":"#000"},"encoding":{"x":{"field":"x","type":"quantitative","scale":{"domain":[0.5,3.33]},"axis":null},"y":{"field":"v","type":"quantitative","scale":{"domain":[-2.04,4.77]},"axis":null}}},
{"data":{"name":"pts"},"transform":[{"filter":"datum.r=='IBI'&&datum.c=='br'&&datum.g==3"}],"mark":{"type":"point","shape":"triangle-up","filled":true,"size":100,"opacity":1,"color":"#000"},"encoding":{"x":{"field":"x","type":"quantitative","scale":{"domain":[0.5,3.33]},"axis":null},"y":{"field":"v","type":"quantitative","scale":{"domain":[-2.04,4.77]},"axis":null}}},
{"data":{"name":"st"},"transform":[{"filter":"datum.r=='IBI'&&datum.c=='br'"}],"mark":{"type":"rule","strokeWidth":4,"color":"#000"},"encoding":{"x":{"field":"g","type":"quantitative","scale":{"domain":[0.5,3.33]},"axis":{"orient":"top","values":[1,2,3],"labels":false,"tickSize":8,"title":null}},"y":{"field":"lo","type":"quantitative","scale":{"domain":[-2.04,4.77]},"axis":{"orient":"right","values":[-2,-1.5,-1,-0.5,0,0.5,1,1.5,2,2.5,3,3.5,4,4.5],"labels":false,"tickSize":{"condition":{"test":"datum.value % 2 === 0","value":8},"value":4.5},"title":null}},"y2":{"field":"hi"}}},
{"data":{"name":"st"},"transform":[{"filter":"datum.r=='IBI'&&datum.c=='br'"}],"mark":{"type":"tick","orient":"horizontal","size":9,"thickness":3,"opacity":1,"color":"#000"},"encoding":{"x":{"field":"g","type":"quantitative","scale":{"domain":[0.5,3.33]},"axis":null},"y":{"field":"lo","type":"quantitative","scale":{"domain":[-2.04,4.77]},"axis":null}}},
{"data":{"name":"st"},"transform":[{"filter":"datum.r=='IBI'&&datum.c=='br'"}],"mark":{"type":"tick","orient":"horizontal","size":9,"thickness":3,"opacity":1,"color":"#000"},"encoding":{"x":{"field":"g","type":"quantitative","scale":{"domain":[0.5,3.33]},"axis":null},"y":{"field":"hi","type":"quantitative","scale":{"domain":[-2.04,4.77]},"axis":null}}},
{"data":{"name":"st"},"transform":[{"filter":"datum.r=='IBI'&&datum.c=='br'"}],"mark":{"type":"tick","orient":"horizontal","size":33,"thickness":6,"cornerRadius":3,"opacity":1,"color":"#000"},"encoding":{"x":{"field":"g","type":"quantitative","scale":{"domain":[0.5,3.33]},"axis":null},"y":{"field":"m","type":"quantitative","scale":{"domain":[-2.04,4.77]},"axis":null}}}
]},
{"width":441,"height":500,"resolve":{"axis":{"x":"independent","y":"independent"}},"layer":[
{"data":{"name":"pts"},"transform":[{"filter":"datum.r=='SBP'&&datum.c=='cl'&&datum.g==1"}],"mark":{"type":"point","shape":"circle","filled":true,"size":50,"opacity":1,"stroke":"#000","strokeWidth":0.6,"fill":{"gradient":"radial","x1":0.38,"y1":0.35,"r1":0,"x2":0.5,"y2":0.5,"r2":0.5,"stops":[{"offset":0,"color":"#ffffff"},{"offset":0.2,"color":"#555555"},{"offset":0.45,"color":"#000000"},{"offset":1,"color":"#000000"}]}},"encoding":{"x":{"field":"x","type":"quantitative","scale":{"domain":[0.5,3.33]},"axis":{"orient":"bottom","values":[1,2,3],"tickSize":8,"title":null,"labelExpr":"datum.value == 1 ? 'control' : datum.value == 2 ? ['DM','recent'] : ['DM','advance']","labelAlign":"left","labelOffset":-27,"labelPadding":9,"labelLineHeight":30,"labelBaseline":"top","labelFlush":false,"labelOverlap":false}},"y":{"field":"v","type":"quantitative","scale":{"domain":[-2.04,4.77]},"axis":{"orient":"left","values":[-2,-1.5,-1,-0.5,0,0.5,1,1.5,2,2.5,3,3.5,4,4.5],"labelExpr":"datum.value % 2 === 0 ? toString(datum.value) : ''","tickSize":{"condition":{"test":"datum.value % 2 === 0","value":8},"value":4.5},"labelPadding":5,"labelFlush":false,"labelOverlap":false,"title":"κ (SBP)","titlePadding":12,"titleY":274}}}},
{"data":{"name":"pts"},"transform":[{"filter":"datum.r=='SBP'&&datum.c=='cl'&&datum.g==2"}],"mark":{"type":"point","shape":"square","filled":true,"size":45,"opacity":1,"color":"#000"},"encoding":{"x":{"field":"x","type":"quantitative","scale":{"domain":[0.5,3.33]},"axis":null},"y":{"field":"v","type":"quantitative","scale":{"domain":[-2.04,4.77]},"axis":null}}},
{"data":{"name":"pts"},"transform":[{"filter":"datum.r=='SBP'&&datum.c=='cl'&&datum.g==3"}],"mark":{"type":"point","shape":"triangle-up","filled":true,"size":100,"opacity":1,"color":"#000"},"encoding":{"x":{"field":"x","type":"quantitative","scale":{"domain":[0.5,3.33]},"axis":null},"y":{"field":"v","type":"quantitative","scale":{"domain":[-2.04,4.77]},"axis":null}}},
{"data":{"name":"st"},"transform":[{"filter":"datum.r=='SBP'&&datum.c=='cl'"}],"mark":{"type":"rule","strokeWidth":4,"color":"#000"},"encoding":{"x":{"field":"g","type":"quantitative","scale":{"domain":[0.5,3.33]},"axis":null},"y":{"field":"lo","type":"quantitative","scale":{"domain":[-2.04,4.77]},"axis":null},"y2":{"field":"hi"}}},
{"data":{"name":"st"},"transform":[{"filter":"datum.r=='SBP'&&datum.c=='cl'"}],"mark":{"type":"tick","orient":"horizontal","size":9,"thickness":3,"opacity":1,"color":"#000"},"encoding":{"x":{"field":"g","type":"quantitative","scale":{"domain":[0.5,3.33]},"axis":null},"y":{"field":"lo","type":"quantitative","scale":{"domain":[-2.04,4.77]},"axis":null}}},
{"data":{"name":"st"},"transform":[{"filter":"datum.r=='SBP'&&datum.c=='cl'"}],"mark":{"type":"tick","orient":"horizontal","size":9,"thickness":3,"opacity":1,"color":"#000"},"encoding":{"x":{"field":"g","type":"quantitative","scale":{"domain":[0.5,3.33]},"axis":null},"y":{"field":"hi","type":"quantitative","scale":{"domain":[-2.04,4.77]},"axis":null}}},
{"data":{"name":"st"},"transform":[{"filter":"datum.r=='SBP'&&datum.c=='cl'"}],"mark":{"type":"tick","orient":"horizontal","size":33,"thickness":6,"cornerRadius":3,"opacity":1,"color":"#000"},"encoding":{"x":{"field":"g","type":"quantitative","scale":{"domain":[0.5,3.33]},"axis":null},"y":{"field":"m","type":"quantitative","scale":{"domain":[-2.04,4.77]},"axis":null}}}
]},
{"width":441,"height":500,"resolve":{"axis":{"x":"independent","y":"independent"}},"layer":[
{"data":{"name":"pts"},"transform":[{"filter":"datum.r=='SBP'&&datum.c=='or'&&datum.g==1"}],"mark":{"type":"point","shape":"circle","filled":true,"size":50,"opacity":1,"stroke":"#000","strokeWidth":0.6,"fill":{"gradient":"radial","x1":0.38,"y1":0.35,"r1":0,"x2":0.5,"y2":0.5,"r2":0.5,"stops":[{"offset":0,"color":"#ffffff"},{"offset":0.2,"color":"#555555"},{"offset":0.45,"color":"#000000"},{"offset":1,"color":"#000000"}]}},"encoding":{"x":{"field":"x","type":"quantitative","scale":{"domain":[0.5,3.33]},"axis":{"orient":"bottom","values":[1,2,3],"tickSize":8,"title":null,"labelExpr":"datum.value == 1 ? 'control' : datum.value == 2 ? ['DM','recent'] : ['DM','advance']","labelAlign":"left","labelOffset":-27,"labelPadding":9,"labelLineHeight":30,"labelBaseline":"top","labelFlush":false,"labelOverlap":false}},"y":{"field":"v","type":"quantitative","scale":{"domain":[-2.04,4.77]},"axis":{"orient":"left","values":[-2,-1.5,-1,-0.5,0,0.5,1,1.5,2,2.5,3,3.5,4,4.5],"labels":false,"tickSize":{"condition":{"test":"datum.value % 2 === 0","value":8},"value":4.5},"title":null}}}},
{"data":{"name":"pts"},"transform":[{"filter":"datum.r=='SBP'&&datum.c=='or'&&datum.g==2"}],"mark":{"type":"point","shape":"square","filled":true,"size":45,"opacity":1,"color":"#000"},"encoding":{"x":{"field":"x","type":"quantitative","scale":{"domain":[0.5,3.33]},"axis":null},"y":{"field":"v","type":"quantitative","scale":{"domain":[-2.04,4.77]},"axis":null}}},
{"data":{"name":"pts"},"transform":[{"filter":"datum.r=='SBP'&&datum.c=='or'&&datum.g==3"}],"mark":{"type":"point","shape":"triangle-up","filled":true,"size":100,"opacity":1,"color":"#000"},"encoding":{"x":{"field":"x","type":"quantitative","scale":{"domain":[0.5,3.33]},"axis":null},"y":{"field":"v","type":"quantitative","scale":{"domain":[-2.04,4.77]},"axis":null}}},
{"data":{"name":"st"},"transform":[{"filter":"datum.r=='SBP'&&datum.c=='or'"}],"mark":{"type":"rule","strokeWidth":4,"color":"#000"},"encoding":{"x":{"field":"g","type":"quantitative","scale":{"domain":[0.5,3.33]},"axis":null},"y":{"field":"lo","type":"quantitative","scale":{"domain":[-2.04,4.77]},"axis":null},"y2":{"field":"hi"}}},
{"data":{"name":"st"},"transform":[{"filter":"datum.r=='SBP'&&datum.c=='or'"}],"mark":{"type":"tick","orient":"horizontal","size":9,"thickness":3,"opacity":1,"color":"#000"},"encoding":{"x":{"field":"g","type":"quantitative","scale":{"domain":[0.5,3.33]},"axis":null},"y":{"field":"lo","type":"quantitative","scale":{"domain":[-2.04,4.77]},"axis":null}}},
{"data":{"name":"st"},"transform":[{"filter":"datum.r=='SBP'&&datum.c=='or'"}],"mark":{"type":"tick","orient":"horizontal","size":9,"thickness":3,"opacity":1,"color":"#000"},"encoding":{"x":{"field":"g","type":"quantitative","scale":{"domain":[0.5,3.33]},"axis":null},"y":{"field":"hi","type":"quantitative","scale":{"domain":[-2.04,4.77]},"axis":null}}},
{"data":{"name":"st"},"transform":[{"filter":"datum.r=='SBP'&&datum.c=='or'"}],"mark":{"type":"tick","orient":"horizontal","size":33,"thickness":6,"cornerRadius":3,"opacity":1,"color":"#000"},"encoding":{"x":{"field":"g","type":"quantitative","scale":{"domain":[0.5,3.33]},"axis":null},"y":{"field":"m","type":"quantitative","scale":{"domain":[-2.04,4.77]},"axis":null}}}
]},
{"width":441,"height":500,"resolve":{"axis":{"x":"independent","y":"independent"}},"layer":[
{"data":{"name":"pts"},"transform":[{"filter":"datum.r=='SBP'&&datum.c=='br'&&datum.g==1"}],"mark":{"type":"point","shape":"circle","filled":true,"size":50,"opacity":1,"stroke":"#000","strokeWidth":0.6,"fill":{"gradient":"radial","x1":0.38,"y1":0.35,"r1":0,"x2":0.5,"y2":0.5,"r2":0.5,"stops":[{"offset":0,"color":"#ffffff"},{"offset":0.2,"color":"#555555"},{"offset":0.45,"color":"#000000"},{"offset":1,"color":"#000000"}]}},"encoding":{"x":{"field":"x","type":"quantitative","scale":{"domain":[0.5,3.33]},"axis":{"orient":"bottom","values":[1,2,3],"tickSize":8,"title":null,"labelExpr":"datum.value == 1 ? 'control' : datum.value == 2 ? ['DM','recent'] : ['DM','advance']","labelAlign":"left","labelOffset":-27,"labelPadding":9,"labelLineHeight":30,"labelBaseline":"top","labelFlush":false,"labelOverlap":false}},"y":{"field":"v","type":"quantitative","scale":{"domain":[-2.04,4.77]},"axis":{"orient":"left","values":[-2,-1.5,-1,-0.5,0,0.5,1,1.5,2,2.5,3,3.5,4,4.5],"labels":false,"tickSize":{"condition":{"test":"datum.value % 2 === 0","value":8},"value":4.5},"title":null}}}},
{"data":{"name":"pts"},"transform":[{"filter":"datum.r=='SBP'&&datum.c=='br'&&datum.g==2"}],"mark":{"type":"point","shape":"square","filled":true,"size":45,"opacity":1,"color":"#000"},"encoding":{"x":{"field":"x","type":"quantitative","scale":{"domain":[0.5,3.33]},"axis":null},"y":{"field":"v","type":"quantitative","scale":{"domain":[-2.04,4.77]},"axis":null}}},
{"data":{"name":"pts"},"transform":[{"filter":"datum.r=='SBP'&&datum.c=='br'&&datum.g==3"}],"mark":{"type":"point","shape":"triangle-up","filled":true,"size":100,"opacity":1,"color":"#000"},"encoding":{"x":{"field":"x","type":"quantitative","scale":{"domain":[0.5,3.33]},"axis":null},"y":{"field":"v","type":"quantitative","scale":{"domain":[-2.04,4.77]},"axis":null}}},
{"data":{"name":"st"},"transform":[{"filter":"datum.r=='SBP'&&datum.c=='br'"}],"mark":{"type":"rule","strokeWidth":4,"color":"#000"},"encoding":{"x":{"field":"g","type":"quantitative","scale":{"domain":[0.5,3.33]},"axis":null},"y":{"field":"lo","type":"quantitative","scale":{"domain":[-2.04,4.77]},"axis":{"orient":"right","values":[-2,-1.5,-1,-0.5,0,0.5,1,1.5,2,2.5,3,3.5,4,4.5],"labels":false,"tickSize":{"condition":{"test":"datum.value % 2 === 0","value":8},"value":4.5},"title":null}},"y2":{"field":"hi"}}},
{"data":{"name":"st"},"transform":[{"filter":"datum.r=='SBP'&&datum.c=='br'"}],"mark":{"type":"tick","orient":"horizontal","size":9,"thickness":3,"opacity":1,"color":"#000"},"encoding":{"x":{"field":"g","type":"quantitative","scale":{"domain":[0.5,3.33]},"axis":null},"y":{"field":"lo","type":"quantitative","scale":{"domain":[-2.04,4.77]},"axis":null}}},
{"data":{"name":"st"},"transform":[{"filter":"datum.r=='SBP'&&datum.c=='br'"}],"mark":{"type":"tick","orient":"horizontal","size":9,"thickness":3,"opacity":1,"color":"#000"},"encoding":{"x":{"field":"g","type":"quantitative","scale":{"domain":[0.5,3.33]},"axis":null},"y":{"field":"hi","type":"quantitative","scale":{"domain":[-2.04,4.77]},"axis":null}}},
{"data":{"name":"st"},"transform":[{"filter":"datum.r=='SBP'&&datum.c=='br'"}],"mark":{"type":"tick","orient":"horizontal","size":33,"thickness":6,"cornerRadius":3,"opacity":1,"color":"#000"},"encoding":{"x":{"field":"g","type":"quantitative","scale":{"domain":[0.5,3.33]},"axis":null},"y":{"field":"m","type":"quantitative","scale":{"domain":[-2.04,4.77]},"axis":null}}}
]}
],
"config": {
"font": "Liberation Sans",
"view": {"stroke": "#000", "strokeWidth": 1.6},
"axis": {"domain": false, "grid": false, "tickColor": "#000", "tickWidth": 1.5, "labelFont": "Liberation Sans", "labelFontSize": 25, "labelColor": "#000", "titleFont": "Liberation Sans", "titleFontSize": 32, "titleFontWeight": "normal", "titleColor": "#000"},
"title": {"anchor": "start", "frame": "group", "font": "Liberation Sans", "fontSize": 31, "fontWeight": "normal", "color": "#000"}
}
}
